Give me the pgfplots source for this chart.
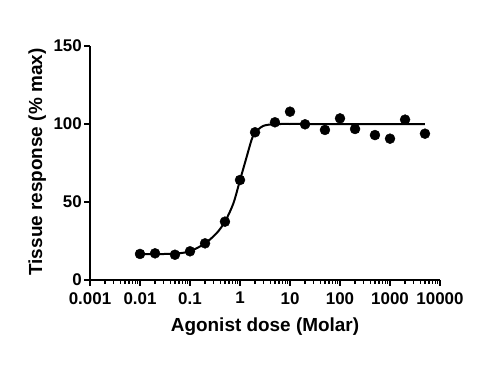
\documentclass[border=0pt]{standalone}
\usepackage{fontspec}
\setmainfont{Liberation Sans}
\usepackage{pgfplots}
\pgfplotsset{compat=1.18}
\begin{document}
\begin{tikzpicture}[x=1bp,y=1bp]
\useasboundingbox (0,0) rectangle (500,375);
\begin{axis}[
  at={(90bp,95bp)}, anchor=south west,
  scale only axis, width=350bp, height=234bp,
  xmode=log, xmin=0.001, xmax=10000, ymin=0, ymax=150,
  axis x line*=bottom, axis y line*=left,
  axis line style={line width=1.6bp, -},
  xtick={0.001,0.01,0.1,1,10,100,1000,10000},
  xticklabels={0.001,0.01,0.1,1,10,100,1000,10000},
  ytick={0,50,100,150},
  yticklabels={0,50,100,150},
  tick align=outside, xtick pos=bottom, ytick pos=left,
  major tick length=6bp, minor tick length=3.5bp,
  major tick style={line width=1.6bp, black},
  minor tick style={line width=1.2bp, black},
  tick label style={font=\fontsize{17}{19}\selectfont\bfseries},
  yticklabel style={inner sep=1bp, xshift=-1bp},
  xticklabel style={inner sep=1bp, yshift=-5bp},
  /pgf/number format/assume math mode=true,
  label style={font=\fontsize{19}{22}\selectfont\bfseries},
  xlabel={Agonist dose (Molar)},
  ylabel={Tissue response (\% max)},
  xlabel style={at={(axis description cs:0.5,-0.2)}, anchor=center},
  ylabel style={at={(axis description cs:-0.151,0.504)}, anchor=center},
  clip=false,
]
\addplot[black, line width=2bp, smooth, no marks] coordinates {
(0.01,16.5)(0.02,16.6)(0.05,16.9)(0.1,18.4)(0.2,23.5)(0.34,30)(0.5,37.4)(0.735,49)(1,64)(1.36,79)(1.71,90)(2,94.5)(2.93,98.8)(5,99.9)(10,100)(20,100)(100,100)(1000,100)(5000,100)
};
\addplot[black, only marks, mark=*, mark size=5bp] coordinates {
(0.01,16.7)(0.02,17.1)(0.05,16.2)(0.1,18.4)(0.2,23.5)(0.5,37.4)(1,64.1)(2,94.7)(5,101.1)(10,107.9)(20,99.8)(50,96.2)(100,103.6)(200,96.8)(500,92.9)(1000,90.6)(2000,102.8)(5000,93.8)
};
\end{axis}
\end{tikzpicture}
\end{document}
